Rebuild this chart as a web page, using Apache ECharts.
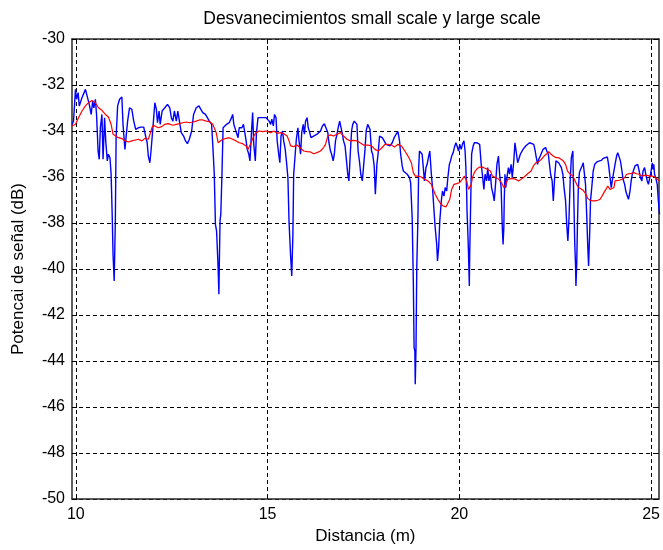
<!DOCTYPE html>
<html>
<head>
<meta charset="utf-8">
<script src="https://cdn.jsdelivr.net/npm/echarts@6/dist/echarts.min.js"></script>
<style>
  html, body { margin: 0; padding: 0; background: #ffffff; }
  #chart { width: 663px; height: 550px; }
</style>
</head>
<body>
<div id="chart"></div>
<script>
// Received signal level along the measurement path (small-scale fading)
const blueDist = [
  9.90, 9.94, 9.99, 10.02, 10.06, 10.09, 10.16, 10.25, 10.30, 10.35, 10.40, 10.44, 10.47, 10.51, 10.54, 10.58,
  10.61, 10.64, 10.68, 10.71, 10.75, 10.78, 10.82, 10.85, 10.89, 10.92, 10.95, 10.97, 11.00, 11.03, 11.05, 11.09,
  11.14, 11.20, 11.23, 11.28, 11.32, 11.35, 11.40, 11.46, 11.51, 11.56, 11.63, 11.70, 11.77, 11.82, 11.86, 11.89,
  11.93, 11.96, 12.01, 12.06, 12.10, 12.13, 12.17, 12.20, 12.25, 12.32, 12.39, 12.45,
  12.49, 12.53, 12.57, 12.62, 12.66, 12.70, 12.75, 12.81, 12.86, 12.91, 12.96, 13.02, 13.07, 13.14, 13.21, 13.26,
  13.31, 13.38, 13.43, 13.48, 13.54, 13.57, 13.61, 13.64, 13.67, 13.71, 13.73, 13.74, 13.76, 13.78, 13.81, 13.84,
  13.88, 13.93, 14.00, 14.06, 14.09, 14.12, 14.16, 14.19, 14.23, 14.26, 14.30, 14.33, 14.37, 14.40, 14.44, 14.47,
  14.51, 14.54, 14.58, 14.61, 14.64, 14.68, 14.71, 14.75, 14.78, 14.83, 14.89, 14.96,
  15.01, 15.04, 15.08, 15.11, 15.15, 15.18, 15.22, 15.25, 15.29, 15.32, 15.35, 15.39, 15.42, 15.46, 15.49, 15.53,
  15.56, 15.60, 15.63, 15.66, 15.68, 15.72, 15.75, 15.79, 15.82, 15.86, 15.89, 15.93, 15.96, 15.99, 16.03, 16.06,
  16.10, 16.13, 16.20, 16.29, 16.38, 16.43, 16.48, 16.53, 16.57, 16.60, 16.64, 16.67, 16.71, 16.74, 16.77, 16.81,
  16.84, 16.88, 16.91, 16.95, 16.98, 17.02, 17.05, 17.09, 17.12, 17.16, 17.19, 17.22, 17.26, 17.29, 17.33, 17.36,
  17.40, 17.43, 17.47, 17.50, 17.54,
  17.57, 17.61, 17.64, 17.67, 17.71, 17.74, 17.78, 17.81, 17.85, 17.88, 17.92, 17.95, 17.99, 18.04, 18.09, 18.14,
  18.19, 18.25, 18.30, 18.35, 18.40, 18.44, 18.47, 18.51, 18.54, 18.59, 18.64, 18.70, 18.73, 18.77, 18.80, 18.82,
  18.84, 18.85, 18.87, 18.89, 18.92, 18.94, 18.96, 18.99, 19.03, 19.06, 19.09, 19.13, 19.16, 19.20, 19.23, 19.27,
  19.30, 19.34, 19.37, 19.41, 19.43, 19.46, 19.49, 19.53, 19.56, 19.60, 19.63, 19.67, 19.70, 19.74, 19.77, 19.80,
  19.84, 19.87, 19.91, 19.94, 19.98, 20.01, 20.05, 20.08,
  20.12, 20.15, 20.17, 20.19, 20.20, 20.22, 20.24, 20.26, 20.27, 20.29, 20.31, 20.32, 20.36, 20.39, 20.45, 20.50,
  20.53, 20.57, 20.60, 20.64, 20.67, 20.71, 20.74, 20.77, 20.81, 20.84, 20.88, 20.91, 20.95, 20.98, 21.02, 21.05,
  21.09, 21.12, 21.14, 21.16, 21.17, 21.19, 21.21, 21.24, 21.28, 21.31, 21.35, 21.38, 21.42, 21.45, 21.48, 21.52,
  21.55, 21.59, 21.62, 21.66, 21.69, 21.73, 21.78, 21.83, 21.88, 21.94, 21.97, 22.00, 22.04, 22.07, 22.11, 22.14,
  22.18, 22.21, 22.25, 22.28, 22.32, 22.35, 22.38, 22.42, 22.45, 22.49, 22.52, 22.56, 22.59, 22.63,
  22.66, 22.70, 22.73, 22.77, 22.80, 22.83, 22.86, 22.89, 22.92, 22.96, 22.97, 22.99, 23.01, 23.03, 23.04, 23.06,
  23.08, 23.10, 23.13, 23.16, 23.20, 23.23, 23.27, 23.29, 23.32, 23.35, 23.37, 23.40, 23.42, 23.46, 23.49, 23.53,
  23.56, 23.60, 23.65, 23.70, 23.75, 23.80, 23.86, 23.89, 23.93, 23.96, 24.00, 24.03, 24.06, 24.10, 24.13, 24.17,
  24.20, 24.24, 24.27, 24.31, 24.34, 24.38, 24.41, 24.45, 24.48, 24.51, 24.55, 24.58, 24.62, 24.65, 24.69, 24.72,
  24.76, 24.79, 24.83, 24.86, 24.90, 24.93, 24.96, 25.00, 25.03, 25.05, 25.07, 25.09, 25.12, 25.16, 25.19, 25.22
];
const blueDb = [
  -33.71, -33.57, -32.19, -32.62, -32.33, -32.91, -32.55, -32.19, -32.12, -32.84, -33.28, -32.70, -32.99, -32.62, -33.28, -34.87,
  -35.23, -33.86, -33.28, -35.23, -33.42, -34.43, -35.30, -35.01, -35.16, -35.88, -37.77, -39.36, -40.52, -37.91, -34.29, -32.91,
  -32.62, -32.52, -33.71, -34.80, -34.80, -33.57, -32.99, -33.06, -33.57, -33.93, -33.86, -33.83, -33.83, -34.22, -34.51, -35.09,
  -35.38, -34.87, -33.86, -32.77, -33.06, -33.64, -33.13, -33.71, -33.13, -32.99, -32.84, -32.99,
  -33.42, -33.57, -33.13, -33.57, -33.13, -33.57, -34.07, -34.22, -34.43, -34.55, -34.36, -34.00, -33.28, -32.99, -32.91, -33.06,
  -33.20, -33.28, -33.42, -33.57, -33.71, -34.58, -35.88, -38.06, -38.35, -39.94, -41.10, -39.94, -37.91, -37.62, -35.88, -33.86,
  -33.78, -33.71, -33.64, -33.42, -33.28, -33.71, -33.93, -34.00, -34.29, -33.86, -33.78, -33.86, -33.71, -34.00, -34.43, -34.80,
  -35.01, -35.30, -34.07, -33.20, -34.58, -35.30, -34.07, -33.42, -33.49, -33.42, -33.42, -33.42,
  -33.49, -33.57, -33.71, -33.49, -33.78, -33.28, -33.42, -34.43, -35.01, -35.38, -34.22, -34.00, -34.43, -34.80, -35.30, -36.03,
  -37.99, -39.43, -40.30, -38.49, -35.88, -35.01, -34.36, -33.86, -34.43, -35.01, -34.07, -33.71, -34.14, -33.57, -33.42, -33.86,
  -34.07, -34.29, -34.22, -34.14, -34.00, -33.78, -33.68, -33.71, -34.07, -34.51, -34.87, -35.01, -35.30, -35.01, -34.43, -34.14,
  -33.86, -33.57, -33.49, -34.14, -34.43, -34.65, -35.16, -35.88, -36.17, -34.87, -34.00, -33.71, -33.57, -33.54, -33.71, -34.87,
  -35.38, -35.88, -36.17, -35.59, -34.80,
  -34.00, -33.71, -33.64, -33.93, -34.87, -35.01, -35.52, -36.75, -35.45, -35.01, -34.22, -34.14, -34.29, -34.43, -34.58, -34.58,
  -34.65, -34.51, -34.29, -34.14, -34.03, -34.43, -35.01, -35.52, -35.74, -35.81, -35.88, -36.03, -36.25, -37.77, -40.52, -43.42,
  -43.57, -45.01, -43.42, -39.94, -37.77, -35.59, -34.87, -34.84, -35.01, -35.59, -36.17, -35.59, -35.45, -35.09, -34.87, -35.88,
  -36.46, -37.48, -38.20, -38.93, -39.65, -39.07, -37.91, -37.04, -36.61, -36.83, -36.46, -36.61, -36.03, -35.45, -35.30, -35.09,
  -34.94, -34.72, -34.51, -34.65, -34.87, -34.58, -34.80, -34.58,
  -34.43, -34.87, -35.59, -36.61, -37.48, -38.35, -39.36, -40.74, -39.36, -37.62, -35.88, -35.01, -34.65, -34.51, -34.51, -34.46,
  -34.58, -35.45, -35.88, -36.54, -35.88, -36.17, -35.59, -36.17, -35.88, -36.46, -36.75, -37.04, -36.17, -35.45, -35.09, -35.88,
  -36.46, -38.20, -38.93, -38.20, -37.04, -35.88, -36.46, -36.03, -35.59, -35.88, -35.45, -36.03, -35.30, -34.51, -34.87, -35.38,
  -35.23, -35.01, -34.94, -34.80, -34.75, -34.65, -34.58, -34.51, -34.51, -34.58, -34.80, -35.09, -35.45, -35.23, -35.09, -35.01,
  -34.80, -34.75, -34.72, -34.87, -35.01, -35.45, -35.88, -36.17, -37.04, -35.88, -35.30, -35.30, -35.38, -35.45,
  -35.59, -35.88, -36.46, -37.04, -38.06, -38.78, -37.77, -36.17, -35.16, -34.87, -35.88, -37.33, -38.93, -39.87, -40.74, -39.80,
  -38.06, -36.61, -35.81, -35.67, -35.52, -35.38, -35.45, -36.32, -37.62, -39.07, -39.87, -38.35, -37.04, -36.32, -35.74, -35.45,
  -35.38, -35.33, -35.30, -35.28, -35.19, -35.13, -35.13, -35.45, -36.03, -36.46, -36.03, -35.74, -35.45, -35.09, -34.94, -35.01,
  -35.30, -35.74, -36.10, -36.32, -36.61, -36.83, -36.97, -36.61, -36.17, -35.88, -35.67, -35.52, -35.59, -35.45, -35.74, -36.03,
  -36.17, -35.74, -35.59, -35.88, -36.17, -36.32, -36.39, -35.74, -35.38, -35.67, -35.45, -35.88, -36.03, -36.32, -37.04, -37.62
];

// Local mean of the same signal (large-scale fading)
const redDist = [
  9.90, 9.99, 10.07, 10.16, 10.25, 10.33, 10.42, 10.51, 10.59, 10.68, 10.77, 10.85, 10.92, 10.97, 11.04, 11.11,
  11.20, 11.29, 11.37, 11.46, 11.55, 11.63, 11.72, 11.80, 11.89, 11.96, 12.00, 12.06, 12.15, 12.24, 12.32, 12.41,
  12.53, 12.62, 12.70, 12.79, 12.88, 12.96, 13.05, 13.14, 13.22, 13.31, 13.40, 13.48, 13.57, 13.66, 13.71, 13.76,
  13.83, 13.92, 14.00, 14.09, 14.18, 14.26, 14.35, 14.44, 14.49, 14.54, 14.59, 14.64, 14.70, 14.78, 14.87, 14.96,
  15.08, 15.16, 15.25, 15.34, 15.42, 15.51, 15.56, 15.60, 15.68, 15.77, 15.86, 15.94, 16.03, 16.12, 16.20, 16.29,
  16.38, 16.46, 16.51, 16.57, 16.64, 16.72, 16.81, 16.90, 16.98, 17.07, 17.16, 17.24, 17.33, 17.41, 17.50,
  17.54, 17.62, 17.71, 17.80, 17.88, 17.97, 18.06, 18.14, 18.23, 18.31, 18.40, 18.49, 18.58, 18.66, 18.75, 18.80,
  18.85, 18.92, 19.01, 19.09, 19.18, 19.27, 19.32, 19.37, 19.44, 19.51, 19.58, 19.65, 19.70, 19.75, 19.80, 19.86,
  19.93, 20.00, 20.06,
  20.13, 20.19, 20.24, 20.27, 20.31, 20.34, 20.39, 20.46, 20.53, 20.60, 20.67, 20.74, 20.81, 20.86, 20.95, 21.03,
  21.10, 21.16, 21.21, 21.26, 21.31, 21.38, 21.47, 21.54, 21.61, 21.69, 21.78, 21.87, 21.93, 22.00, 22.07, 22.14,
  22.21, 22.28, 22.33, 22.39, 22.45, 22.52, 22.59,
  22.70, 22.77, 22.82, 22.89, 22.96, 23.01, 23.06, 23.11, 23.16, 23.23, 23.30, 23.35, 23.41, 23.48, 23.54, 23.61,
  23.67, 23.72, 23.77, 23.82, 23.87, 23.93, 23.98, 24.03, 24.06, 24.10, 24.17, 24.24, 24.31, 24.36, 24.41, 24.48,
  24.55, 24.62, 24.69, 24.76, 24.83, 24.90, 24.96, 25.03, 25.10, 25.15, 25.21
];
const redDb = [
  -33.78, -33.71, -33.42, -33.13, -32.91, -32.77, -32.67, -32.77, -32.99, -33.10, -33.28, -33.39, -33.71, -34.14, -34.22, -34.29,
  -34.33, -34.43, -34.48, -34.43, -34.39, -34.36, -34.43, -34.32, -34.36, -34.00, -33.78, -33.78, -33.86, -33.81, -33.71, -33.68,
  -33.75, -33.71, -33.68, -33.64, -33.61, -33.64, -33.61, -33.57, -33.52, -33.52, -33.57, -33.59, -33.71, -34.07, -34.51, -34.43,
  -34.36, -34.32, -34.29, -34.36, -34.43, -34.51, -34.55, -34.65, -34.80, -34.72, -34.43, -34.22, -34.07, -34.00, -34.03, -34.00,
  -34.07, -34.00, -34.10, -34.07, -34.12, -34.22, -34.43, -34.65, -34.68, -34.61, -34.75, -34.87, -34.90, -34.91, -34.99, -34.94,
  -34.87, -34.72, -34.58, -34.22, -34.17, -34.22, -34.14, -34.07, -34.22, -34.36, -34.43, -34.41, -34.43, -34.51, -34.61,
  -34.65, -34.61, -34.65, -34.80, -34.87, -34.75, -34.58, -34.58, -34.61, -34.70, -34.58, -34.65, -34.87, -35.09, -35.38, -35.81,
  -35.96, -35.96, -36.00, -36.10, -36.17, -36.32, -36.54, -36.75, -36.97, -37.16, -37.26, -37.30, -37.22, -36.97, -36.54, -36.32,
  -36.29, -36.25, -36.14,
  -35.96, -36.17, -36.54, -36.61, -36.32, -36.03, -35.81, -35.64, -35.57, -35.57, -35.62, -35.67, -35.74, -35.96, -36.03, -36.10,
  -36.25, -36.46, -36.32, -36.10, -36.03, -36.06, -36.10, -36.17, -36.10, -36.00, -35.86, -35.74, -35.52, -35.38, -35.33, -35.23,
  -35.09, -34.99, -34.90, -35.01, -35.09, -35.16, -35.16,
  -35.28, -35.45, -35.74, -35.88, -35.96, -36.14, -36.32, -36.46, -36.54, -36.58, -36.75, -36.93, -37.01, -37.04, -37.04, -37.01,
  -36.97, -36.83, -36.68, -36.54, -36.39, -36.54, -36.61, -36.46, -36.17, -36.10, -36.14, -36.10, -36.03, -35.88, -35.81, -35.84,
  -35.81, -35.86, -35.88, -35.96, -35.93, -35.93, -35.96, -35.96, -36.00, -36.03, -36.17
];

// Axis ticks
const xTicks = [10, 15, 20, 25];
const xRange = [9.9, 25.2];
const yRange = [-50, -30];
const yStep = 2;

const titleText = 'Desvanecimientos small scale y large scale';
const xName = 'Distancia (m)';
const yName = 'Potencai de señal (dB)';

const zip = (xs, ys) => xs.map((x, i) => [x, ys[i]]);

const FONT = '"Liberation Sans", Arial, sans-serif';
const gridLine = { show: true, lineStyle: { color: '#000', type: [4, 3], width: 1 } };
const frame = { show: true, lineStyle: { color: '#2a2a2a', width: 1.5 } };
const inTick = { show: true, inside: true, length: 5, lineStyle: { color: '#000' } };

const chart = echarts.init(document.getElementById('chart'), null, { renderer: 'canvas' });
chart.setOption({
  animation: false,
  backgroundColor: '#ffffff',
  title: {
    text: titleText,
    left: 367,
    textAlign: 'center',
    top: 5,
    textStyle: { fontFamily: FONT, fontSize: 17.5, fontWeight: 'normal', color: '#000' }
  },
  grid: { left: 72, top: 39, width: 590, height: 460, show: false },
  xAxis: [
    {
      type: 'value', min: xRange[0], max: xRange[1], position: 'bottom',
      name: xName, nameLocation: 'middle', nameGap: 29,
      nameTextStyle: { fontFamily: FONT, fontSize: 17, color: '#000' },
      axisLine: frame,
      axisTick: Object.assign({ customValues: xTicks }, inTick),
      axisLabel: { customValues: xTicks, margin: 8, fontFamily: FONT, fontSize: 16, color: '#000' },
      splitLine: gridLine
    },
    {
      type: 'value', min: xRange[0], max: xRange[1], position: 'top',
      axisLine: frame,
      axisTick: Object.assign({ customValues: xTicks }, inTick),
      axisLabel: { show: false },
      splitLine: { show: false }
    }
  ],
  yAxis: [
    {
      type: 'value', min: yRange[0], max: yRange[1], interval: yStep, position: 'left',
      name: yName, nameLocation: 'middle', nameGap: 45, nameRotate: 90,
      nameTextStyle: { fontFamily: FONT, fontSize: 17, color: '#000' },
      axisLine: frame,
      axisTick: inTick,
      axisLabel: { margin: 7, fontFamily: FONT, fontSize: 16, color: '#000' },
      splitLine: gridLine
    },
    {
      type: 'value', min: yRange[0], max: yRange[1], interval: yStep, position: 'right',
      axisLine: frame,
      axisTick: inTick,
      axisLabel: { show: false },
      splitLine: { show: false }
    }
  ],
  series: [
    {
      type: 'line', data: zip(blueDist, blueDb), showSymbol: false, symbol: 'none',
      lineStyle: { color: '#0000ff', width: 1.4 }, z: 3
    },
    {
      type: 'line', data: zip(redDist, redDb), showSymbol: false, symbol: 'none',
      lineStyle: { color: '#ff0000', width: 1.2 }, z: 4
    }
  ]
});
</script>
</body>
</html>
